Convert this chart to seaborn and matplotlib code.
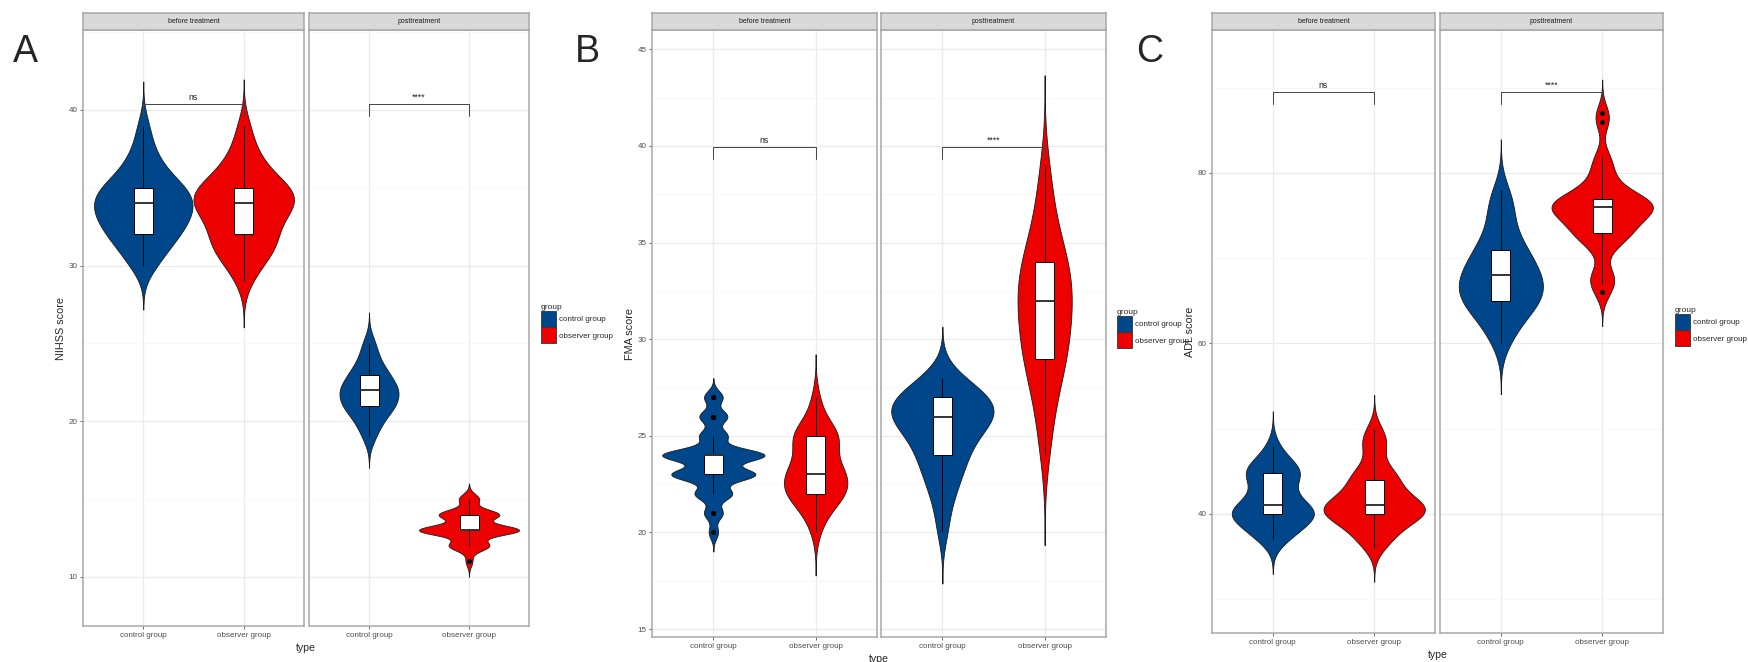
import numpy as np
import pandas as pd
import matplotlib.pyplot as plt
from matplotlib.patches import Patch
import seaborn as sns

# --- 1. Data: integer scores and how many patients had each score ---
# A: NIHSS
NIHSS_BEFORE_CTRL_SCORES = [30, 31, 32, 33, 34, 35, 36, 37, 38, 39]
NIHSS_BEFORE_CTRL_COUNTS = [2, 3, 5, 6, 7, 6, 3, 2, 1, 1]
NIHSS_BEFORE_OBS_SCORES = [29, 30, 31, 32, 33, 34, 35, 36, 37, 38, 39]
NIHSS_BEFORE_OBS_COUNTS = [1, 2, 4, 4, 4, 7, 6, 3, 2, 1, 1]
NIHSS_POST_CTRL_SCORES = [19, 20, 21, 22, 23, 24, 25]
NIHSS_POST_CTRL_COUNTS = [2, 4, 8, 9, 6, 3, 2]
NIHSS_POST_OBS_SCORES = [11, 12, 13, 14, 15]
NIHSS_POST_OBS_COUNTS = [1, 6, 15, 9, 3]

# B: FMA
FMA_BEFORE_CTRL_SCORES = [20, 21, 22, 23, 24, 25, 26, 27]
FMA_BEFORE_CTRL_COUNTS = [1, 2, 4, 9, 11, 3, 3, 2]
FMA_BEFORE_OBS_SCORES = [20, 21, 22, 23, 24, 25, 26, 27]
FMA_BEFORE_OBS_COUNTS = [1, 3, 8, 8, 4, 7, 2, 1]
FMA_POST_CTRL_SCORES = [20, 21, 22, 23, 24, 25, 26, 27, 28]
FMA_POST_CTRL_COUNTS = [1, 1, 2, 3, 4, 5, 9, 8, 3]
FMA_POST_OBS_SCORES = [24, 25, 26, 27, 28, 29, 30, 31, 32, 33, 34, 35, 36, 37, 38, 39]
FMA_POST_OBS_COUNTS = [1, 1, 1, 2, 2, 4, 3, 4, 4, 4, 4, 2, 2, 1, 1, 1]

# C: ADL
ADL_BEFORE_CTRL_SCORES = [37, 38, 39, 40, 41, 42, 43, 44, 45, 46, 47, 48]
ADL_BEFORE_CTRL_COUNTS = [2, 3, 3, 7, 4, 2, 2, 2, 5, 2, 1, 1]
ADL_BEFORE_OBS_SCORES = [36, 37, 38, 39, 40, 41, 42, 43, 44, 45, 46, 48, 49, 50]
ADL_BEFORE_OBS_COUNTS = [1, 2, 2, 3, 6, 6, 3, 2, 3, 2, 1, 2, 1, 1]
ADL_POST_CTRL_SCORES = [60, 61, 62, 63, 64, 65, 66, 67, 68, 69, 70, 71, 72, 73, 74, 75, 76, 77, 78]
ADL_POST_CTRL_COUNTS = [1, 1, 1, 2, 2, 4, 3, 3, 4, 2, 2, 3, 1, 1, 1, 1, 1, 1, 1]
ADL_POST_OBS_SCORES = [66, 67, 68, 71, 72, 73, 74, 75, 76, 77, 78, 79, 80, 81, 82, 86, 87]
ADL_POST_OBS_COUNTS = [1, 1, 2, 1, 2, 3, 3, 3, 7, 4, 2, 1, 1, 1, 1, 1, 1]

GROUPS = ["control group", "observer group"]
PHASES = ["before treatment", "posttreatment"]
SIGNIF = ["ns", "****"]
COLORS = ["#00468B", "#ED0000"]

# --- 2. Layout (pixel positions) ---
W, H = 1748, 662
PLOT_TOP, STRIP_TOP = 30, 13
BORDER = "#A8A8A8"


def long_table(parts):
    frames = []
    for phase, group, scores, counts in parts:
        frames.append(pd.DataFrame({"type": phase, "group": group,
                                    "score": np.repeat(scores, counts)}))
    return pd.concat(frames, ignore_index=True)


panels = [
    dict(letter="A", letter_x=25, ylabel="NIHSS score",
         df=long_table([
             (PHASES[0], GROUPS[0], NIHSS_BEFORE_CTRL_SCORES, NIHSS_BEFORE_CTRL_COUNTS),
             (PHASES[0], GROUPS[1], NIHSS_BEFORE_OBS_SCORES, NIHSS_BEFORE_OBS_COUNTS),
             (PHASES[1], GROUPS[0], NIHSS_POST_CTRL_SCORES, NIHSS_POST_CTRL_COUNTS),
             (PHASES[1], GROUPS[1], NIHSS_POST_OBS_SCORES, NIHSS_POST_OBS_COUNTS)]),
         facets=[(83, 304), (309, 529)], bottom=626, ylim=(6.84, 45.14),
         major=[10, 20, 30, 40], minor=[15, 25, 35, 45], bracket=40.4,
         widths=[[0.98, 1.0], [0.59, 1.0]], legend=(541, 304)),
    dict(letter="B", letter_x=587, ylabel="FMA score",
         df=long_table([
             (PHASES[0], GROUPS[0], FMA_BEFORE_CTRL_SCORES, FMA_BEFORE_CTRL_COUNTS),
             (PHASES[0], GROUPS[1], FMA_BEFORE_OBS_SCORES, FMA_BEFORE_OBS_COUNTS),
             (PHASES[1], GROUPS[0], FMA_POST_CTRL_SCORES, FMA_POST_CTRL_COUNTS),
             (PHASES[1], GROUPS[1], FMA_POST_OBS_SCORES, FMA_POST_OBS_COUNTS)]),
         facets=[(652, 877), (881, 1106)], bottom=637, ylim=(14.59, 46.0),
         major=[15, 20, 25, 30, 35, 40, 45],
         minor=[17.5, 22.5, 27.5, 32.5, 37.5, 42.5], bracket=39.93,
         widths=[[1.0, 0.62], [1.0, 0.53]], legend=(1117, 309)),
    dict(letter="C", letter_x=1150, ylabel="ADL score",
         df=long_table([
             (PHASES[0], GROUPS[0], ADL_BEFORE_CTRL_SCORES, ADL_BEFORE_CTRL_COUNTS),
             (PHASES[0], GROUPS[1], ADL_BEFORE_OBS_SCORES, ADL_BEFORE_OBS_COUNTS),
             (PHASES[1], GROUPS[0], ADL_POST_CTRL_SCORES, ADL_POST_CTRL_COUNTS),
             (PHASES[1], GROUPS[1], ADL_POST_OBS_SCORES, ADL_POST_OBS_COUNTS)]),
         facets=[(1212, 1435), (1440, 1663)], bottom=633, ylim=(26.04, 96.77),
         major=[40, 60, 80], minor=[30, 50, 70, 90], bracket=89.5,
         widths=[[0.81, 1.0], [0.83, 1.0]], legend=(1675, 307)),
]


def nrd0_factor(x):
    # R's default bandwidth (bw.nrd0) expressed as a factor of the sd
    sd = np.std(x, ddof=1)
    q75, q25 = np.percentile(x, [75, 25])
    lo = min(sd, (q75 - q25) / 1.34)
    return 0.9 * lo * len(x) ** -0.2 / sd


def px_rect(x0, x1, y0, y1):
    return [x0 / W, 1 - y1 / H, (x1 - x0) / W, (y1 - y0) / H]


sns.set_theme(style="white")
plt.rcParams["font.family"] = ["Liberation Sans", "DejaVu Sans"]

fig = plt.figure(figsize=(W / 100, H / 100), dpi=100)

for p in panels:
    lo, hi = p["ylim"]
    tip = 0.02 * (hi - lo)
    for fi, phase in enumerate(PHASES):
        x0, x1 = p["facets"][fi]
        ax = fig.add_axes(px_rect(x0, x1, PLOT_TOP, p["bottom"]))
        sub = p["df"][p["df"]["type"] == phase]

        for gi, grp in enumerate(GROUPS):
            d = sub[sub["group"] == grp]
            sns.violinplot(data=d, x="group", y="score", order=GROUPS,
                           color=COLORS[gi], saturation=1, inner=None, cut=3,
                           gridsize=512, bw_method=nrd0_factor(d["score"].to_numpy()),
                           density_norm="width", width=p["widths"][fi][gi],
                           linecolor="#1a1a1a", linewidth=0.6, ax=ax)
            sns.boxplot(data=d, x="group", y="score", order=GROUPS,
                        color="white", saturation=1, width=0.19, whis=1.5,
                        linecolor="black", linewidth=0.7, showcaps=False,
                        flierprops=dict(marker="o", markersize=2.6,
                                        markerfacecolor="black", markeredgecolor="black"),
                        medianprops=dict(linewidth=1.4, color="#333333"), ax=ax)

        # significance bracket
        yb = p["bracket"]
        ax.plot([0, 0, 1, 1], [yb - tip, yb, yb, yb - tip], color="#444444", lw=0.7, zorder=5)
        ax.annotate(SIGNIF[fi], xy=(0.5, yb), xytext=(0, 3), textcoords="offset points",
                    ha="center", va="baseline", fontsize=6.3, color="#222222")

        ax.set_xlim(-0.6, 1.6)
        ax.set_ylim(lo, hi)
        ax.set_yticks(p["major"])
        ax.set_yticks(p["minor"], minor=True)
        ax.set_xlabel("")
        ax.set_facecolor("white")
        ax.set_axisbelow(True)
        ax.grid(which="major", color="#EBEBEB", lw=0.9)
        ax.grid(which="minor", axis="y", color="#F5F5F5", lw=0.5)
        ax.tick_params(which="minor", length=0)
        ax.tick_params(which="major", labelsize=5.8, labelcolor="#4D4D4D",
                       color="#4D4D4D", length=2.5, width=0.6, pad=1.5,
                       bottom=True, left=(fi == 0), labelleft=(fi == 0))
        for s in ax.spines.values():
            s.set_color(BORDER)
            s.set_linewidth(1.1)
        if fi == 0:
            ax.set_ylabel(p["ylabel"], fontsize=7.8, labelpad=2)
        else:
            ax.set_ylabel("")

        # facet strip
        sax = fig.add_axes(px_rect(x0, x1, STRIP_TOP, PLOT_TOP))
        sax.set_facecolor("#D9D9D9")
        sax.set_xticks([])
        sax.set_yticks([])
        for s in sax.spines.values():
            s.set_color(BORDER)
            s.set_linewidth(1.1)
        sax.text(0.5, 0.5, phase, ha="center", va="center", fontsize=5, color="#1A1A1A",
                 transform=sax.transAxes)

    left, right = p["facets"][0][0], p["facets"][1][1]
    fig.text((left + right) / 2 / W, 1 - (p["bottom"] + 22) / H, "type",
             ha="center", va="center", fontsize=7.6)
    fig.text(p["letter_x"] / W, 1 - 52 / H, p["letter"], ha="center", va="center",
             fontsize=27)

    handles = [Patch(facecolor=c, edgecolor="#333333", lw=0.6, label=g)
               for c, g in zip(COLORS, GROUPS)]
    lx, ly = p["legend"]
    fig.legend(handles=handles, title="group", loc="upper left",
               bbox_to_anchor=(lx / W, 1 - ly / H), frameon=False,
               fontsize=5.8, title_fontsize=6, handlelength=1.8, handleheight=2.7,
               labelspacing=0, handletextpad=0.4, borderaxespad=0, borderpad=0,
               alignment="left")

fig.savefig("out.png", dpi=100)
